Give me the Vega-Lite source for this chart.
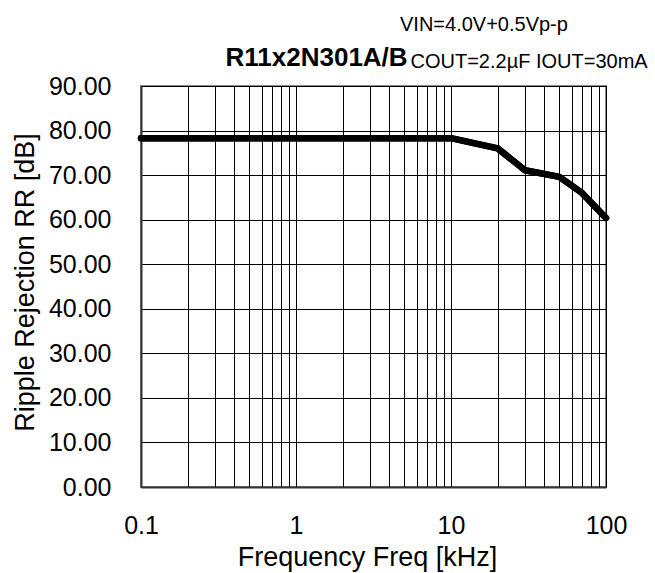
{
  "$schema": "https://vega.github.io/schema/vega-lite/v6.json",
  "autosize": {"type": "none"},
  "width": 465,
  "height": 401,
  "padding": {"left": 141, "top": 86, "right": 49, "bottom": 86},
  "config": {
    "font": "Liberation Sans",
    "view": {"stroke": "#888", "strokeWidth": 2},
    "axis": {"labelColor": "#000", "titleColor": "#000", "titleFontWeight": "normal"}
  },
  "title": {
    "text": "VIN=4.0V+0.5Vp-p",
    "fontSize": 20,
    "fontWeight": "normal",
    "color": "#000",
    "anchor": "start",
    "frame": "group",
    "dx": 259,
    "dy": 23,
    "baseline": "alphabetic",
    "offset": 16
  },
  "data": {
    "values": [
      {"freq": 0.1, "rr": 78.3},
      {"freq": 1, "rr": 78.3},
      {"freq": 10, "rr": 78.3},
      {"freq": 20, "rr": 76.0},
      {"freq": 30, "rr": 71.1},
      {"freq": 50, "rr": 69.6},
      {"freq": 70, "rr": 66.0},
      {"freq": 100, "rr": 60.4}
    ]
  },
  "resolve": {"axis": {"x": "independent", "y": "independent"}},
  "layer": [
    {
      "mark": {"type": "line", "color": "#000", "strokeWidth": 6.5, "strokeCap": "round", "strokeJoin": "round"},
      "encoding": {
        "x": {
          "field": "freq", "type": "quantitative",
          "scale": {"type": "log", "domain": [0.1, 100], "nice": false},
          "axis": {
            "orient": "bottom",
            "values": [0.1, 0.2, 0.3, 0.4, 0.5, 0.6, 0.7, 0.8, 0.9, 1, 2, 3, 4, 5, 6, 7, 8, 9, 10, 20, 30, 40, 50, 60, 70, 80, 90, 100],
            "labelExpr": "(datum.value == 0.1 || datum.value == 1 || datum.value == 10 || datum.value == 100) ? format(datum.value, '~g') : ''",
            "labelOverlap": false,
            "labelFlush": false,
            "labelFontSize": 25,
            "labelPadding": 26,
            "ticks": false,
            "grid": true,
            "gridColor": "#000",
            "gridWidth": 1,
            "gridOpacity": 1,
            "domain": true,
            "domainColor": "#333",
            "domainWidth": 2,
            "title": "Frequency Freq [kHz]",
            "titleFontSize": 27,
            "titleX": 226,
            "titleY": 78,
            "titleAlign": "center",
            "titleBaseline": "alphabetic"
          }
        },
        "y": {
          "field": "rr", "type": "quantitative",
          "scale": {"domain": [0, 90], "nice": false},
          "axis": {
            "orient": "left",
            "values": [0, 10, 20, 30, 40, 50, 60, 70, 80, 90],
            "format": ".2f",
            "labelFontSize": 25,
            "labelPadding": 30,
            "ticks": false,
            "grid": true,
            "gridColor": "#000",
            "gridWidth": 1,
            "gridOpacity": 1,
            "domain": true,
            "domainColor": "#333",
            "domainWidth": 2,
            "title": "Ripple Rejection RR [dB]",
            "titleFontSize": 27,
            "titleX": -108,
            "titleY": 196,
            "titleAngle": 270,
            "titleAlign": "center",
            "titleBaseline": "alphabetic"
          }
        }
      }
    },
    {
      "mark": {"type": "line", "color": "#000", "strokeWidth": 6.5, "strokeCap": "round", "strokeJoin": "round"},
      "encoding": {
        "x": {
          "field": "freq", "type": "quantitative",
          "scale": {"type": "log", "domain": [0.1, 100], "nice": false},
          "axis": {
            "orient": "top",
            "labels": false, "ticks": false, "grid": false, "domain": false,
            "title": "R11x2N301A/B",
            "titleFontSize": 26,
            "titleFontWeight": "bold",
            "titleX": 84,
            "titleY": -21,
            "titleAlign": "left",
            "titleBaseline": "alphabetic"
          }
        },
        "y": {
          "field": "rr", "type": "quantitative",
          "scale": {"domain": [0, 90], "nice": false},
          "axis": {
            "orient": "right",
            "labels": false, "ticks": false, "grid": false, "domain": false,
            "title": "COUT=2.2µF IOUT=30mA",
            "titleFontSize": 20,
            "titleAngle": 0,
            "titleX": -196,
            "titleY": -19,
            "titleAlign": "left",
            "titleBaseline": "alphabetic"
          }
        }
      }
    }
  ]
}
